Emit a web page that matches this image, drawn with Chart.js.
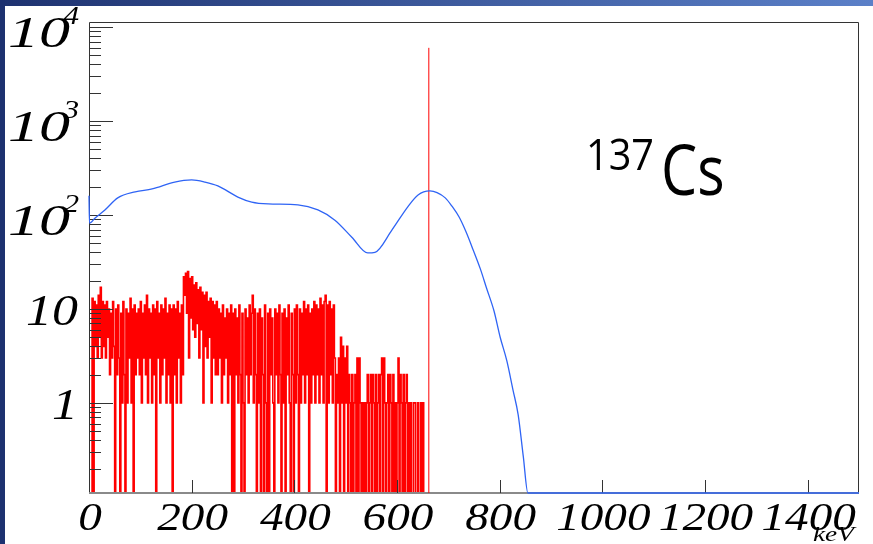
<!DOCTYPE html>
<html>
<head>
<meta charset="utf-8">
<script src="https://cdn.jsdelivr.net/npm/chart.js@4.4.1/dist/chart.umd.min.js"></script>
<style>
  html, body { margin: 0; padding: 0; background: #fff; }
  canvas { display: block; }
</style>
</head>
<body>
<canvas id="spectrum" width="873" height="544"></canvas>
<script>
// red measured histogram, 2 keV bins starting at RED_START keV
var RED_START = 6;
var RED_BIN = 2;
var redCounts = [
	// 6 - 184 keV
	0, 13, 0, 12, 4, 11, 3, 14, 5, 17,
	3, 12, 4, 11, 3, 12, 5, 10, 2, 9,
	3, 12, 4, 0, 10, 2, 11, 3, 0, 9,
	1, 12, 2, 0, 10, 1, 9, 3, 13, 1,
	10, 0, 11, 2, 9, 3, 10, 2, 12, 1,
	9, 3, 11, 2, 14, 1, 10, 3, 9, 1,
	11, 2, 10, 0, 12, 3, 9, 1, 11, 2,
	10, 3, 13, 1, 9, 2, 11, 1, 10, 0,
	11, 2, 10, 1, 12, 3, 9, 1, 11, 2,
	// 186 - 248 keV (backscatter bump)
	22, 14, 24, 9, 25, 3, 21, 8, 22, 6,
	18, 5, 19, 7, 16, 3, 17, 6, 15, 1,
	14, 4, 15, 3, 12, 5, 13, 1, 12, 3,
	11, 2,
	// 250 - 478 keV
	12, 2, 10, 3, 9, 1, 11, 2, 8, 3,
	10, 1, 9, 2, 11, 0, 9, 0, 10, 2,
	8, 1, 11, 2, 0, 9, 1, 0, 10, 2,
	8, 1, 11, 2, 9, 14, 1, 10, 2, 0,
	9, 1, 10, 0, 8, 2, 0, 11, 1, 0,
	9, 0, 10, 2, 8, 1, 0, 10, 2, 9,
	1, 11, 2, 0, 9, 1, 10, 0, 8, 2,
	11, 1, 0, 9, 2, 0, 10, 1, 11, 2,
	0, 10, 1, 9, 2, 12, 1, 10, 2, 11,
	0, 9, 1, 10, 2, 12, 1, 11, 2, 10,
	1, 13, 2, 11, 1, 12, 14, 0, 11, 1,
	12, 2, 10, 1, 11,
	// 480 - 508 keV
	3, 0, 2, 1, 3, 0, 5, 1, 4, 0, 3, 1, 4, 0, 2,
	// 510 - 628 keV
	1, 0, 2, 0, 1, 2, 0, 3, 0, 3,
	1, 0, 1, 0, 1, 0, 1, 2, 0, 1,
	2, 0, 2, 1, 0, 2, 0, 1, 2, 0,
	2, 3, 0, 3, 1, 0, 1, 2, 0, 2,
	1, 0, 2, 0, 1, 0, 1, 3, 0, 2,
	1, 0, 2, 0, 1, 2, 0, 1, 0, 1,
	// 630 - 658 keV
	0, 0, 1, 1, 0, 0, 1, 0, 0, 1, 0, 1, 0, 0, 0
];

// blue simulated response curve (Gaussian photopeak on a Compton shelf)
var blueKeV    = [0, 1, 12, 31, 56, 90, 123, 167, 200, 226, 251, 290, 317, 349, 407, 446, 479, 512, 543, 557, 590, 621, 641, 664, 678, 694, 707, 721, 734, 748, 762, 775, 789, 801, 814, 826, 836, 846, 855, 1500];
var blueCounts = [160, 82, 93, 113, 152, 176, 189, 224, 236, 224, 204, 155, 137, 131, 128, 113, 88, 58, 39.4, 40, 69, 122, 163, 180, 173, 152, 124, 95, 67, 43, 27, 16.3, 9.5, 5.0, 2.8, 1.37, 0.75, 0.27, 0.11, 0.11];

// photopeak marker
var markerKeV = 662;
var markerRange = [0.11, 6000];

var xTickValues = [0, 200, 400, 600, 800, 1000, 1200, 1400];
var yTickValues = [1, 10, 100, 1000, 10000];
var yTickBase   = ['1', '10', '10', '10', '10'];
var yTickExp    = ['', '', '2', '3', '4'];

var X_MIN = 0, X_MAX = 1500, Y_MIN = 0.11, Y_MAX = 11300;

// empty bins sit on the floor of the log axis, as ROOT draws them
var redPoints = redCounts.map(function(v, i) {
	return {x: RED_START + i * RED_BIN, y: v > 0 ? v : Y_MIN};
});
var bluePoints = blueKeV.map(function(k, i) { return {x: k, y: blueCounts[i]}; });
var markerPoints = markerRange.map(function(v) { return {x: markerKeV, y: v}; });

function scaledText(ctx, text, x, y, sx, align) {
	ctx.save();
	ctx.translate(x, y);
	ctx.scale(sx, 1);
	ctx.textAlign = align;
	ctx.fillText(text, 0, 0);
	ctx.restore();
}

var rootFrame = {
	id: 'rootFrame',
	beforeDraw: function(chart) {
		var ctx = chart.ctx;
		ctx.save();
		ctx.fillStyle = '#ffffff';
		ctx.fillRect(0, 0, chart.width, chart.height);
		var g = ctx.createLinearGradient(0, 0, chart.width, 0);
		g.addColorStop(0, '#1e3270');
		g.addColorStop(1, '#5b80c8');
		ctx.fillStyle = g;
		ctx.fillRect(0, 0, chart.width, 6);
		ctx.fillStyle = '#1d3170';
		ctx.fillRect(0, 0, 5, chart.height);
		ctx.restore();
	},
	afterDatasetDraw: function(chart, args) {
		if (args.index !== 0) return;
		var ctx = chart.ctx;
		var a = chart.chartArea;
		var xs = chart.scales.x, ys = chart.scales.y;
		var i, m, d, v, y, x;
		ctx.save();

		// frame
		ctx.strokeStyle = '#333';
		ctx.lineWidth = 1;
		ctx.beginPath();
		ctx.moveTo(a.left + 0.5, a.bottom);
		ctx.lineTo(a.left + 0.5, a.top + 0.5);
		ctx.lineTo(a.right - 0.5, a.top + 0.5);
		ctx.lineTo(a.right - 0.5, a.bottom);
		ctx.stroke();
		ctx.strokeStyle = '#8a8a8a';
		ctx.lineWidth = 2;
		ctx.beginPath();
		ctx.moveTo(a.left, a.bottom);
		ctx.lineTo(a.right, a.bottom);
		ctx.stroke();

		// y ticks (log, with minor)
		ctx.strokeStyle = '#333';
		ctx.lineWidth = 1;
		ctx.beginPath();
		for (d = -1; d <= 4; d++) {
			for (m = 1; m <= 9; m++) {
				v = m * Math.pow(10, d);
				if (v < Y_MIN || v > Y_MAX) continue;
				y = Math.round(ys.getPixelForValue(v)) + 0.5;
				ctx.moveTo(a.left, y);
				ctx.lineTo(a.left + (m === 1 ? 24 : 12), y);
			}
		}
		// x ticks
		for (i = 1; i < xTickValues.length; i++) {
			x = Math.round(xs.getPixelForValue(xTickValues[i])) + 0.5;
			ctx.moveTo(x, a.bottom);
			ctx.lineTo(x, a.bottom - 13);
		}
		ctx.stroke();

		// x labels
		ctx.fillStyle = '#000';
		ctx.textBaseline = 'alphabetic';
		ctx.font = 'italic 40px "Liberation Serif"';
		for (i = 0; i < xTickValues.length; i++) {
			x = xs.getPixelForValue(xTickValues[i]);
			scaledText(ctx, String(xTickValues[i]), x + 1, 530, 1.18, 'center');
		}
		ctx.font = 'italic 21px "Liberation Serif"';
		scaledText(ctx, 'keV', 813, 541, 1.3, 'left');

		// y labels
		for (i = 0; i < yTickValues.length; i++) {
			y = ys.getPixelForValue(yTickValues[i]);
			if (yTickExp[i]) {
				ctx.font = 'italic 45px "Liberation Serif"';
				scaledText(ctx, yTickBase[i], 70, y + 20, 1.38, 'right');
				ctx.font = 'italic 26px "Liberation Serif"';
				scaledText(ctx, yTickExp[i], 79, y - 3, 1.2, 'right');
			} else {
				ctx.font = 'italic 44px "Liberation Serif"';
				scaledText(ctx, yTickBase[i], 78, y + 16, 1.18, 'right');
			}
		}

		// isotope label
		ctx.font = '44px "Open Sans"';
		scaledText(ctx, '137', 586, 170, 0.9, 'left');
		ctx.font = '70px "Open Sans"';
		scaledText(ctx, 'Cs', 661, 195, 0.82, 'left');

		ctx.restore();
	}
};

new Chart(document.getElementById('spectrum'), {
	type: 'line',
	data: {
		datasets: [
			{
				label: 'data',
				data: redPoints,
				stepped: 'after',
				borderColor: '#ff0000',
				borderWidth: 1.6,
				pointRadius: 0,
				fill: false,
				order: 3
			},
			{
				label: 'marker',
				data: markerPoints,
				borderColor: '#ff0000',
				borderWidth: 1,
				pointRadius: 0,
				fill: false,
				order: 2
			},
			{
				label: 'fit',
				data: bluePoints,
				borderColor: '#2f64f5',
				borderWidth: 1.3,
				pointRadius: 0,
				fill: false,
				cubicInterpolationMode: 'monotone',
				clip: 1,
				order: 1
			}
		]
	},
	options: {
		responsive: false,
		animation: false,
		events: [],
		layout: { padding: { left: 89, top: 22, right: 14, bottom: 51 } },
		plugins: {
			legend: { display: false },
			tooltip: { enabled: false }
		},
		scales: {
			x: { type: 'linear', min: X_MIN, max: X_MAX, display: false },
			y: { type: 'logarithmic', min: Y_MIN, max: Y_MAX, display: false }
		}
	},
	plugins: [rootFrame]
});
</script>
</body>
</html>
